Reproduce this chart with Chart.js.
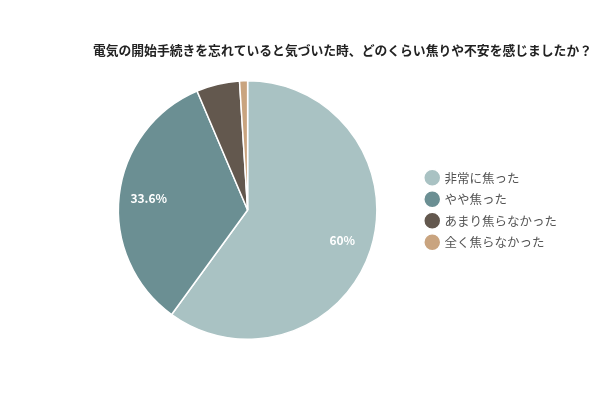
<!DOCTYPE html>
<html>
<head>
<meta charset="utf-8">
<script src="https://cdn.jsdelivr.net/npm/chart.js@4"></script>
<style>
  html, body { margin: 0; padding: 0; background: #fff; }
  #wrap { width: 600px; height: 400px; }
</style>
</head>
<body>
<div id="wrap"><canvas id="myChart"></canvas></div>
<script>
// data
const titleText = "電気の開始手続きを忘れていると気づいた時、どのくらい焦りや不安を感じましたか？";
const labels = ["非常に焦った", "やや焦った", "あまり焦らなかった", "全く焦らなかった"];
const values = [60, 33.6, 5.4, 1.0];
const valueLabels = ["60%", "33.6%", "", ""];
const colors = ["#a9c2c3", "#6b8f93", "#63584e", "#c9a47f"];

const fontFamily = "'Noto Sans CJK JP', 'Noto Sans', sans-serif";

// title drawn at the right-hand side, like the original
const titlePlugin = {
  id: "rightTitle",
  afterDraw(chart) {
    const ctx = chart.ctx;
    ctx.save();
    ctx.font = "bold 12.8px " + fontFamily;
    ctx.fillStyle = "#222";
    ctx.textAlign = "right";
    ctx.textBaseline = "middle";
    ctx.fillText(titleText, 592, 50);
    ctx.restore();
  },
};

// percent labels inside the big slices
const sliceLabels = {
  id: "sliceLabels",
  afterDatasetsDraw(chart) {
    const ctx = chart.ctx;
    const meta = chart.getDatasetMeta(0);
    ctx.save();
    ctx.font = "bold 12px " + fontFamily;
    ctx.fillStyle = "#fff";
    ctx.textAlign = "center";
    ctx.textBaseline = "middle";
    meta.data.forEach((arc, i) => {
      if (!valueLabels[i]) return;
      const mid = (arc.startAngle + arc.endAngle) / 2;
      const r = arc.outerRadius * 0.77;
      ctx.fillText(valueLabels[i], arc.x + Math.cos(mid) * r, arc.y + Math.sin(mid) * r);
    });
    ctx.restore();
  },
};

const config = {
  type: "pie",
  data: {
    labels: labels,
    datasets: [
      {
        data: values,
        backgroundColor: colors,
        borderColor: "#fff",
        borderWidth: 1.5,
      },
    ],
  },
  options: {
    responsive: true,
    maintainAspectRatio: false,
    animation: false,
    layout: {
      padding: { left: 78, right: 33, top: 80, bottom: 60 },
    },
    plugins: {
      title: { display: false },
      tooltip: { enabled: false },
      legend: {
        position: "right",
        align: "center",
        labels: {
          usePointStyle: true,
          pointStyle: "circle",
          boxWidth: 12,
          boxHeight: 12,
          padding: 9,
          color: "#555",
          font: { family: fontFamily, size: 12.5 },
        },
      },
    },
  },
  plugins: [titlePlugin, sliceLabels],
};

const myChart = new Chart(document.getElementById("myChart"), config);
</script>
</body>
</html>
